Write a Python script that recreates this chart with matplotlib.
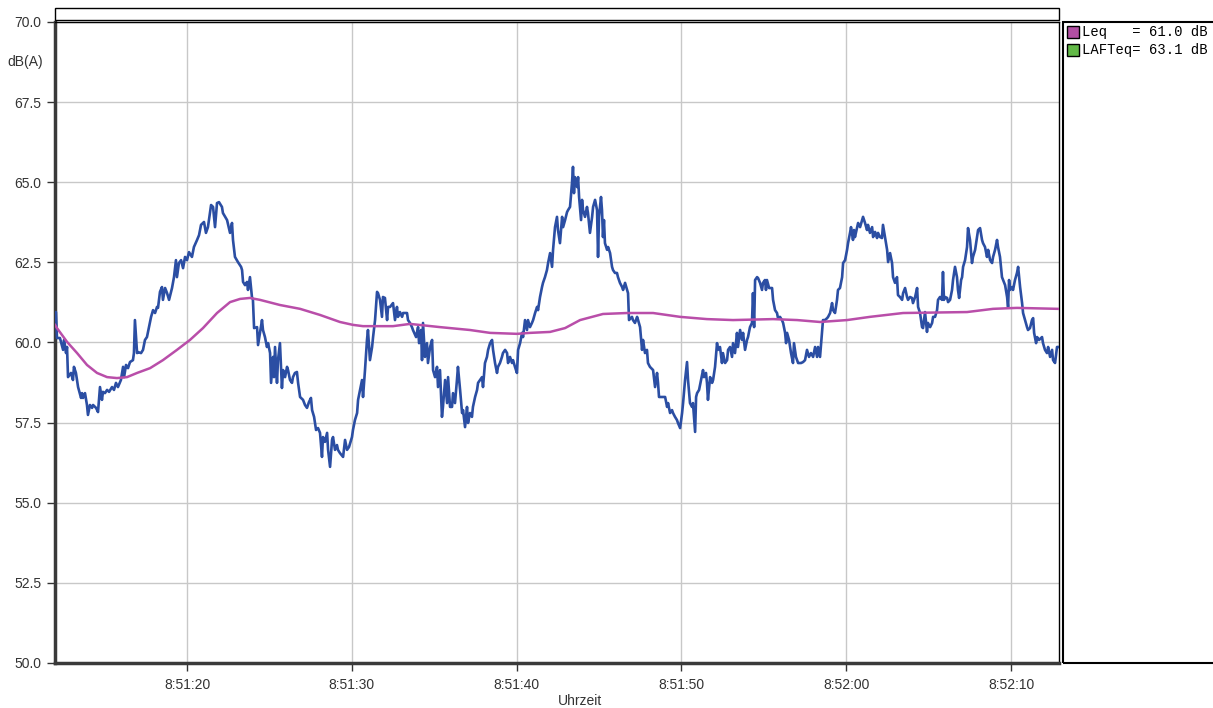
import matplotlib
matplotlib.use("Agg")
import matplotlib.pyplot as plt
from matplotlib.patches import Rectangle
import numpy as np

# seconds after 8:51:00 and sound level LAF in dB(A)
laf_t = np.concatenate([
    [11.99, 12.05, 12.11, 12.29, 12.48, 12.54, 12.66, 12.72, 12.78, 12.96,
     13.08, 13.14, 13.26, 13.39, 13.57, 13.63, 13.69, 13.81, 13.93, 13.99,
     14.11, 14.24, 14.30, 14.48, 14.60, 14.72, 14.84, 14.90, 15.02, 15.15,
     15.27, 15.45, 15.57, 15.69, 15.81, 15.99, 16.12, 16.18, 16.30, 16.42,
     16.54, 16.72, 16.78, 16.84, 16.97, 17.03, 17.21, 17.33, 17.45, 17.57,
     17.69, 17.82, 17.94, 18.06, 18.18, 18.24, 18.36, 18.48, 18.54, 18.67,
     18.79, 18.91, 19.09, 19.21, 19.33, 19.39, 19.51, 19.64, 19.76, 19.88,
     20.00, 20.12, 20.30, 20.42, 20.61, 20.73, 20.85, 21.03, 21.15, 21.27,
     21.46, 21.58, 21.70, 21.82, 21.94, 22.12, 22.18],
    [22.43, 22.61, 22.73, 22.79, 22.91, 23.09, 23.28, 23.34, 23.40, 23.52,
     23.64, 23.70, 23.82, 23.94, 24.00, 24.07, 24.25, 24.31, 24.43, 24.55,
     24.61, 24.73, 24.85, 24.92, 25.04, 25.10, 25.22, 25.28, 25.34, 25.46,
     25.52, 25.64, 25.76, 25.83, 25.95, 26.07, 26.13, 26.25, 26.37, 26.43,
     26.55, 26.67, 26.74, 26.86, 27.04, 27.16, 27.28, 27.40, 27.52, 27.59,
     27.71, 27.83, 27.95, 28.07, 28.19, 28.25, 28.37, 28.50, 28.56, 28.68,
     28.80, 28.86, 28.98, 29.10, 29.16, 29.28, 29.47, 29.59, 29.71, 29.83,
     30.01, 30.07, 30.19, 30.32, 30.38, 30.50, 30.62, 30.68, 30.80, 30.92,
     30.98, 31.10, 31.23, 31.29, 31.41, 31.53, 31.59, 31.71, 31.83, 31.89,
     32.01, 32.14, 32.20],
    [32.32, 32.50, 32.62, 32.74, 32.80, 32.92, 33.05, 33.11, 33.35, 33.41,
     33.53, 33.65, 33.71, 33.90, 34.02, 34.08, 34.20, 34.26, 34.32, 34.44,
     34.56, 34.62, 34.75, 34.87, 34.93, 35.05, 35.17, 35.23, 35.35, 35.47,
     35.53, 35.66, 35.78, 35.84, 35.96, 36.08, 36.14, 36.26, 36.38, 36.44,
     36.57, 36.69, 36.75, 36.87, 36.99, 37.05, 37.17, 37.29, 37.35, 37.48,
     37.60, 37.66, 37.78, 37.90, 37.96, 38.08, 38.20, 38.27, 38.39, 38.51,
     38.57, 38.69, 38.81, 38.87, 38.99, 39.11, 39.17, 39.30, 39.42, 39.48,
     39.60, 39.72, 39.78, 39.90, 40.02, 40.09, 40.21, 40.33, 40.39, 40.51,
     40.63, 40.69, 40.81, 40.93, 41.00, 41.12, 41.24, 41.30, 41.42, 41.54,
     41.60, 41.72, 41.84, 41.91, 42.03, 42.15, 42.21, 42.33, 42.45, 42.51],
    [42.63, 42.76, 42.82, 42.94, 43.06, 43.12, 43.24, 43.36, 43.42, 43.48,
     43.54, 43.67, 43.73, 43.79, 43.91, 43.97, 44.03, 44.15, 44.27, 44.33,
     44.45, 44.58, 44.64, 44.76, 44.88, 44.94, 45.00, 45.12, 45.18, 45.24,
     45.30, 45.36, 45.49, 45.55, 45.67, 45.79, 45.85, 45.97, 46.09, 46.15,
     46.27, 46.40, 46.46, 46.58, 46.70, 46.76, 46.82, 47.00, 47.06, 47.18,
     47.31, 47.37, 47.49, 47.61, 47.67, 47.79, 47.91, 47.97, 48.09, 48.28,
     48.40, 48.52, 48.58, 48.64, 48.82, 49.01, 49.13, 49.19, 49.31, 49.43,
     49.49, 49.61, 49.73, 49.79, 49.92, 50.04, 50.10, 50.22, 50.34, 50.40,
     50.52, 50.64, 50.70, 50.83, 50.89, 50.95, 51.07, 51.19, 51.31, 51.37,
     51.49, 51.55, 51.61, 51.74, 51.86, 51.92, 52.04, 52.16, 52.22, 52.34,
     52.46, 52.52, 52.65, 52.77, 52.83, 52.95, 53.07, 53.13],
    [53.25, 53.37, 53.43, 53.56, 53.68, 53.74, 53.86, 53.98, 54.04, 54.16,
     54.28, 54.34, 54.41, 54.47, 54.59, 54.65, 54.77, 54.89, 54.95, 55.07,
     55.13, 55.19, 55.32, 55.50, 55.56, 55.68, 55.80, 55.86, 55.98, 56.10,
     56.17, 56.29, 56.35, 56.41, 56.53, 56.65, 56.77, 56.83, 56.95, 57.08,
     57.26, 57.38, 57.50, 57.62, 57.74, 57.86, 57.99, 58.11, 58.23, 58.29,
     58.41, 58.53, 58.59, 58.71, 58.84, 58.90, 59.02, 59.14, 59.20, 59.32,
     59.44, 59.50, 59.62, 59.75, 59.81, 59.93, 60.05, 60.11, 60.23, 60.29,
     60.41, 60.47, 60.53, 60.66, 60.72, 60.84, 60.96, 61.02, 61.14, 61.26,
     61.32, 61.44, 61.57, 61.63, 61.75, 61.87, 61.93, 62.05, 62.17, 62.23,
     62.35, 62.48, 62.54, 62.66, 62.78, 62.84, 62.96, 63.08, 63.14, 63.26],
    [63.39, 63.45, 63.57, 63.69, 63.75, 63.87, 63.99, 64.05, 64.18, 64.30,
     64.36, 64.48, 64.60, 64.66, 64.78, 64.90, 64.96, 65.09, 65.21, 65.27,
     65.39, 65.51, 65.57, 65.69, 65.81, 65.87, 65.93, 66.00, 66.12, 66.18,
     66.30, 66.42, 66.48, 66.60, 66.72, 66.78, 66.85, 66.97, 67.03, 67.09,
     67.21, 67.33, 67.39, 67.51, 67.63, 67.69, 67.82, 67.94, 68.00, 68.12,
     68.24, 68.30, 68.42, 68.54, 68.61, 68.73, 68.85, 68.91, 69.03, 69.15,
     69.21, 69.33, 69.45, 69.52, 69.64, 69.76, 69.82, 69.88, 69.94, 70.06,
     70.12, 70.24, 70.36, 70.43, 70.55, 70.67, 70.73, 70.85, 70.97, 71.03,
     71.15, 71.27, 71.34, 71.40, 71.52, 71.58, 71.70, 71.88, 71.94, 72.06,
     72.18, 72.25, 72.37, 72.49, 72.55, 72.67, 72.79, 72.85],
])

laf_db = np.concatenate([
    [60.92, 60.95, 60.14, 60.14, 59.77, 60.08, 59.67, 59.86, 58.92, 59.05,
     58.83, 59.24, 59.05, 58.61, 58.27, 58.42, 58.27, 58.42, 58.05, 57.74,
     58.05, 57.96, 58.05, 57.96, 57.83, 58.61, 58.21, 58.46, 58.42, 58.52,
     58.46, 58.61, 58.52, 58.74, 58.61, 58.83, 59.24, 58.92, 59.30, 59.20,
     59.39, 59.45, 59.67, 60.70, 59.67, 59.70, 59.67, 59.77, 60.08, 60.17,
     60.48, 60.80, 61.01, 60.92, 61.11, 61.08, 61.58, 61.73, 61.33, 61.70,
     61.54, 61.33, 61.70, 62.04, 62.57, 62.04, 62.48, 62.57, 62.32, 62.67,
     62.57, 62.82, 62.67, 62.98, 63.20, 63.35, 63.67, 63.76, 63.42, 63.60,
     64.29, 64.23, 63.60, 64.35, 64.38, 64.23, 64.04],
    [63.82, 63.42, 63.73, 63.20, 62.67, 62.51, 62.36, 62.26, 61.89, 61.79,
     61.89, 61.64, 62.04, 61.42, 61.33, 60.45, 60.48, 59.92, 60.30, 60.70,
     60.39, 60.17, 59.86, 59.98, 59.67, 58.74, 59.55, 58.92, 59.86, 58.74,
     59.45, 59.98, 58.58, 59.14, 58.92, 59.24, 59.14, 58.83, 58.74, 58.92,
     59.05, 59.08, 58.74, 58.30, 58.21, 58.05, 57.96, 58.14, 58.27, 57.89,
     57.68, 57.27, 57.33, 57.18, 56.43, 57.05, 56.90, 57.18, 56.65, 56.12,
     56.96, 57.05, 56.65, 56.80, 56.65, 56.55, 56.43, 56.96, 56.65, 56.74,
     57.05, 57.27, 57.58, 57.80, 58.21, 58.52, 58.83, 58.30, 59.14, 60.08,
     60.39, 59.45, 59.86, 60.17, 60.70, 61.58, 61.54, 61.33, 60.80, 61.42,
     61.39, 60.70, 61.11],
    [61.11, 61.23, 60.70, 61.11, 60.80, 60.95, 60.80, 60.92, 60.92, 60.70,
     60.61, 60.48, 60.39, 60.17, 60.48, 59.98, 60.39, 59.45, 60.61, 59.55,
     59.98, 59.36, 59.86, 60.08, 59.14, 58.92, 59.24, 58.61, 59.14, 57.68,
     57.99, 58.83, 58.11, 58.92, 57.99, 57.99, 58.42, 58.11, 58.83, 59.24,
     58.52, 57.80, 57.89, 57.36, 57.99, 57.49, 57.80, 57.68, 57.99, 58.30,
     58.52, 58.74, 58.83, 58.92, 58.61, 59.36, 59.55, 59.77, 59.98, 60.08,
     59.77, 59.36, 59.05, 59.24, 59.36, 59.55, 59.67, 59.77, 59.67, 59.36,
     59.55, 59.36, 59.45, 59.24, 59.05, 59.77, 59.98, 60.30, 60.17, 60.70,
     60.39, 60.70, 60.48, 60.61, 60.70, 60.92, 61.11, 61.01, 61.42, 61.73,
     61.86, 62.04, 62.26, 62.48, 62.79, 62.36, 62.89, 63.60, 63.92, 63.51],
    [63.10, 63.92, 63.60, 63.82, 64.07, 64.13, 64.23, 64.98, 65.48, 64.66,
     65.16, 64.85, 65.16, 64.54, 63.82, 64.45, 64.13, 63.92, 64.23, 64.04,
     63.42, 63.92, 64.23, 64.45, 64.13, 62.67, 63.92, 64.54, 64.13, 63.29,
     63.82, 63.10, 62.89, 62.98, 62.79, 62.36, 62.26, 62.17, 62.17, 62.04,
     61.86, 61.73, 61.64, 61.86, 61.64, 61.54, 60.70, 60.80, 60.70, 60.61,
     60.80, 60.70, 60.48, 59.77, 60.08, 59.67, 59.77, 59.36, 59.24, 59.14,
     58.61, 59.05, 58.74, 58.30, 58.30, 58.30, 57.99, 58.11, 57.80, 57.89,
     57.80, 57.68, 57.58, 57.49, 57.33, 57.80, 58.11, 58.83, 59.39, 58.83,
     58.11, 57.99, 58.11, 57.21, 58.30, 58.42, 58.52, 58.83, 59.14, 58.92,
     59.05, 58.74, 58.21, 58.92, 58.74, 58.83, 59.24, 59.98, 59.77, 59.86,
     59.36, 59.67, 59.36, 59.45, 59.77, 59.86, 59.55, 59.98],
    [59.67, 60.30, 59.86, 60.39, 60.08, 60.30, 59.77, 60.08, 60.17, 60.48,
     60.61, 61.54, 60.48, 61.95, 62.04, 62.01, 61.86, 61.64, 61.86, 61.95,
     61.64, 61.95, 61.70, 61.70, 61.33, 61.01, 60.92, 60.76, 60.80, 60.70,
     60.61, 60.30, 59.98, 60.30, 60.08, 59.67, 59.36, 59.98, 59.55, 59.36,
     59.36, 59.39, 59.45, 59.77, 59.55, 59.67, 59.55, 59.86, 59.55, 59.86,
     59.55, 60.30, 60.70, 60.70, 60.76, 60.80, 60.92, 61.23, 61.01, 60.92,
     61.33, 61.64, 61.70, 62.04, 62.48, 62.57, 62.89, 63.10, 63.42, 63.60,
     63.20, 63.51, 63.29, 63.60, 63.73, 63.60, 63.82, 63.92, 63.73, 63.51,
     63.67, 63.42, 63.60, 63.29, 63.45, 63.26, 63.42, 63.29, 63.26, 63.67,
     63.29, 62.89, 62.51, 62.79, 62.48, 62.04, 61.86, 62.04, 61.48, 61.42],
    [61.33, 61.54, 61.70, 61.42, 61.33, 61.42, 61.39, 61.23, 61.42, 61.70,
     61.11, 60.92, 60.48, 60.45, 60.95, 60.33, 60.61, 60.48, 60.61, 60.80,
     60.80, 61.01, 61.33, 61.42, 61.33, 62.20, 61.33, 61.42, 61.39, 61.26,
     61.33, 61.64, 61.95, 62.36, 62.04, 61.64, 61.39, 61.95, 62.04, 62.36,
     62.57, 62.98, 63.57, 63.20, 62.48, 62.67, 62.89, 63.29, 63.51, 63.57,
     63.20, 63.10, 62.98, 62.67, 62.89, 62.57, 62.48, 62.67, 62.89, 63.20,
     62.98, 62.67, 62.04, 61.95, 61.79, 61.42, 61.11, 61.95, 61.64, 61.73,
     61.64, 61.95, 62.17, 62.36, 61.73, 61.23, 60.92, 60.70, 60.48, 60.39,
     60.45, 60.70, 60.76, 60.30, 59.98, 60.17, 60.08, 60.17, 59.98, 59.77,
     59.67, 59.86, 59.55, 59.77, 59.45, 59.36, 59.86, 59.86],
])

# running Leq
leq_t = [11.99, 12.11, 12.72, 13.33, 13.93, 14.54, 15.15, 15.75, 16.36, 16.97,
         17.76, 18.54, 19.39, 20.18, 20.97, 21.82, 22.61, 23.22, 23.82, 24.43,
         25.64, 26.86, 28.07, 29.28, 30.07, 30.68, 32.50, 33.53, 35.35, 37.17,
         38.39, 40.02, 40.81, 42.03, 42.94, 43.85, 45.24, 46.70, 48.28, 49.92,
         51.55, 53.13, 55.56, 57.02, 58.41, 60.05, 61.44, 63.45, 67.33, 68.91,
         70.36, 72.85]
leq_db = [60.55, 60.45, 60.02, 59.67, 59.30, 59.05, 58.92, 58.89, 58.92, 59.05,
          59.20, 59.45, 59.77, 60.08, 60.45, 60.92, 61.26, 61.36, 61.39, 61.33,
          61.17, 61.05, 60.86, 60.64, 60.55, 60.51, 60.51, 60.58, 60.48, 60.39,
          60.30, 60.27, 60.30, 60.33, 60.45, 60.70, 60.89, 60.92, 60.92, 60.80,
          60.73, 60.70, 60.73, 60.70, 60.64, 60.70, 60.80, 60.92, 60.95, 61.05,
          61.08, 61.05]

x_ticks = [20, 30, 40, 50, 60, 70]
x_labels = ["8:51:20", "8:51:30", "8:51:40", "8:51:50", "8:52:00", "8:52:10"]
y_ticks = [50.0, 52.5, 55.0, 57.5, 60.0, 62.5, 65.0, 67.5, 70.0]

legend_names = ["Leq   = 61.0 dB", "LAFTeq= 63.1 dB"]
legend_colors = ["#b24fa3", "#62b947"]

W, H = 1213, 708
plt.rcParams['font.family'] = ['Liberation Sans', 'DejaVu Sans']

fig = plt.figure(figsize=(W / 100, H / 100), dpi=100)
fig.patch.set_facecolor("white")

def fx(px):
    return px / W

def fy(py):
    return 1 - py / H

ax = fig.add_axes([fx(55), fy(663), fx(1059) - fx(55), fy(22) - fy(663)])
ax.plot(laf_t, laf_db, color="#2b4ea3", linewidth=1.9, zorder=3)
ax.plot(leq_t, leq_db, color="#b94ea9", linewidth=1.8, zorder=4)

ax.set_xlim(11.99, 72.91)
ax.set_ylim(50, 70)
ax.set_xticks(x_ticks)
ax.set_xticklabels(x_labels)
ax.set_yticks(y_ticks)
ax.set_yticklabels([f"{v:.1f}" for v in y_ticks])
ax.grid(True, color="#c8c8c8", linewidth=1)
ax.set_axisbelow(True)
ax.tick_params(direction="out", length=6, width=1, color="#333333",
               labelsize=10, labelcolor="#333333")
ax.tick_params(axis="y", pad=4)
ax.tick_params(axis="x", pad=5)

for side in ("left", "bottom"):
    ax.spines[side].set_linewidth(2.5)
    ax.spines[side].set_color("#3a3a3a")
ax.spines["top"].set_linewidth(1)
ax.spines["top"].set_color("black")
ax.spines["right"].set_linewidth(1)
ax.spines["right"].set_color("black")

# empty title strip above the plot
fig.patches.append(Rectangle((fx(55), fy(20)), fx(1059) - fx(55), fy(8) - fy(20),
                             transform=fig.transFigure, fill=False,
                             edgecolor="black", linewidth=1))

# legend panel on the right
fig.patches.append(Rectangle((fx(1063), fy(663)), fx(1240) - fx(1063), fy(22) - fy(663),
                             transform=fig.transFigure, fill=False,
                             edgecolor="black", linewidth=1.5))
for i, (name, col) in enumerate(zip(legend_names, legend_colors)):
    top = 26 + i * 18
    fig.patches.append(Rectangle((fx(1067), fy(top + 12)), fx(12), fy(0) - fy(12),
                                 transform=fig.transFigure, facecolor=col,
                                 edgecolor="black", linewidth=1))
    fig.text(fx(1082), fy(top + 6), name, ha="left", va="center",
             family="Liberation Mono", fontsize=10, color="black")

fig.text(fx(25), fy(62), "dB(A)", ha="center", va="center", fontsize=10, color="#333333")
fig.text(fx(580), fy(701), "Uhrzeit", ha="center", va="center", fontsize=10, color="#333333")

fig.savefig("out.png", dpi=100)
